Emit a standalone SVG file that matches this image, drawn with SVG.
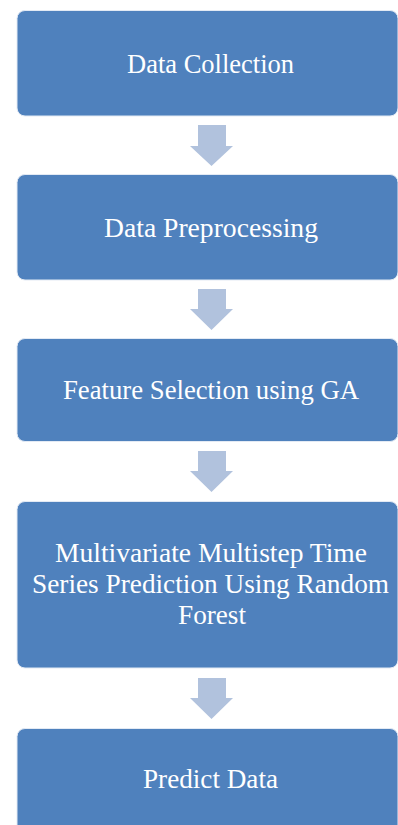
<svg xmlns="http://www.w3.org/2000/svg" width="398" height="825" viewBox="0 0 398 825">
<style>
.box{fill:#4F81BD;stroke:#E3EAF4;stroke-width:1}
.arrow{fill:#B1C2DD}
.lbl{font-family:"Liberation Serif","DejaVu Serif",serif;font-size:28px;fill:#FFFFFF;text-anchor:middle}
</style>
<rect width="398" height="825" fill="#FFFFFF"/>
<g id="connectors">
<polygon class="arrow" points="198,125 226,125 226,146 233,146 211.5,166 190,146 198,146"/>
<polygon class="arrow" points="198,289 226,289 226,309 233,309 211.5,330 190,309 198,309"/>
<polygon class="arrow" points="198,451 226,451 226,471 233,471 211.5,492 190,471 198,471"/>
<polygon class="arrow" points="198,678 226,678 226,698 233,698 211.5,719 190,698 198,698"/>
</g>
<g id="node1">
<rect class="box" x="17" y="10.5" width="381" height="105.5" rx="8"/>
<text class="lbl" x="210.5" y="72.7" textLength="167" lengthAdjust="spacingAndGlyphs">Data Collection</text>
</g>
<g id="node2">
<rect class="box" x="17" y="174.5" width="381" height="105.5" rx="8"/>
<text class="lbl" x="211" y="236.7" textLength="214" lengthAdjust="spacingAndGlyphs">Data Preprocessing</text>
</g>
<g id="node3">
<rect class="box" x="17" y="338.5" width="381" height="103" rx="8"/>
<text class="lbl" x="211" y="399.3" textLength="296" lengthAdjust="spacingAndGlyphs">Feature Selection using GA</text>
</g>
<g id="node4">
<rect class="box" x="17" y="501.5" width="381" height="166.5" rx="8"/>
<text class="lbl" x="211" y="561.7" textLength="312" lengthAdjust="spacingAndGlyphs">Multivariate Multistep Time</text>
<text class="lbl" x="210.5" y="593" textLength="357" lengthAdjust="spacingAndGlyphs">Series Prediction Using Random</text>
<text class="lbl" x="212" y="624" textLength="68" lengthAdjust="spacingAndGlyphs">Forest</text>
</g>
<g id="node5">
<rect class="box" x="17" y="728.5" width="381" height="120" rx="8"/>
<text class="lbl" x="210.5" y="788" textLength="135" lengthAdjust="spacingAndGlyphs">Predict Data</text>
</g>
</svg>
